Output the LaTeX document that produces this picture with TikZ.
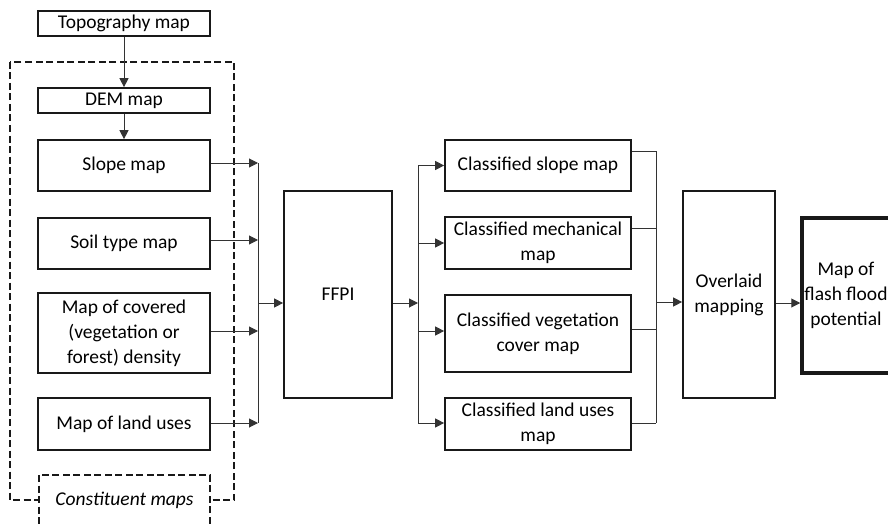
\documentclass[tikz,border=0pt]{standalone}
\usepackage{fontspec}
\setmainfont{Carlito}
\usetikzlibrary{arrows.meta,calc}
\begin{document}
\begin{tikzpicture}[x=1pt,y=-1pt,
  box/.style={draw=black!90,line width=1.7pt,rectangle,inner sep=0pt,align=center,font=\fontsize{19.5}{25}\selectfont},
  conn/.style={line width=1pt,draw=black!80},
  arr/.style={conn,-{Triangle[length=9pt,width=9pt]}},
  dashbox/.style={draw=black!90,line width=1.3pt,dash pattern=on 7pt off 3.5pt},
]
\useasboundingbox (0,0) rectangle (888,524);
\clip (0,0) rectangle (888,524);
% constituent group
\draw[dashbox] (10,62) rectangle (234,500);
\draw[dashbox,fill=white] (39,475) rectangle (210,545);
\node[font=\fontsize{19.5}{25}\selectfont\itshape] (constit) at (124.5,500) {Constituent maps};
% left boxes
\node[box,minimum width=172pt,minimum height=25pt] (topo) at (124,23.5) {Topography map};
\node[box,minimum width=172pt,minimum height=25pt] (dem) at (124,100.5) {DEM map};
\node[box,minimum width=172pt,minimum height=51pt] (slope) at (124,165.5) {Slope map};
\node[box,minimum width=172pt,minimum height=51pt] (soil) at (124,243.5) {Soil type map};
\node[box,minimum width=172pt,minimum height=80pt] (cover) at (124,333) {Map of covered\\(vegetation or\\forest) density};
\node[box,minimum width=172pt,minimum height=52pt] (land) at (124,424) {Map of land uses};
% FFPI
\node[box,minimum width=108pt,minimum height=207pt] (ffpi) at (338,294.5) {FFPI};
% classified boxes
\node[box,minimum width=186pt,minimum height=51pt] (cslope) at (538,165.5) {Classified slope map};
\node[box,minimum width=186pt,minimum height=52pt] (cmech) at (538,243) {Classified mechanical\\map};
\node[box,minimum width=186pt,minimum height=77pt] (cveg) at (538,333.5) {Classified vegetation\\cover map};
\node[box,minimum width=186pt,minimum height=52pt] (cland) at (538,424) {Classified land uses\\map};
% overlay and result
\node[box,minimum width=92pt,minimum height=207pt] (over) at (729,294.5) {Overlaid\\mapping};
\node[box,line width=3.5pt,minimum width=88pt,minimum height=155pt] (flash) at (846,295.5) {Map of\\flash flood\\potential};
% bus coordinates
\coordinate (busL) at (258,0);
\coordinate (busM) at (418,0);
\coordinate (busR) at (656,0);
% vertical arrows
\draw[arr] (topo) -- (dem);
\draw[arr] (dem) -- (slope);
% left inputs to bus
\draw[arr] ($(slope.east)+(0,-2.5)$) -- ($(slope.east -| busL)+(0,-2.5)$);
\draw[arr] ($(soil.east)+(0,-3.5)$) -- ($(soil.east -| busL)+(0,-3.5)$);
\draw[arr] ($(cover.east)+(0,-2)$) -- ($(cover.east -| busL)+(0,-2)$);
\draw[arr] ($(land.east)+(0,-1)$) -- ($(land.east -| busL)+(0,-1)$);
\draw[conn] ($(slope.east -| busL)+(0,-2.5)$) -- ($(land.east -| busL)+(0,-1)$);
\draw[arr] ($(ffpi.west -| busL)+(0,8.5)$) -- ($(ffpi.west)+(0,8.5)$);
% FFPI to classified
\draw[arr] ($(ffpi.east)+(0,8.5)$) -- ($(ffpi.east -| busM)+(0,8.5)$);
\draw[conn] (cslope.west -| busM) -- (cland.west -| busM);
\draw[arr] (cslope.west -| busM) -- (cslope.west);
\draw[arr] (cmech.west -| busM) -- (cmech.west);
\draw[arr] ($(cveg.west -| busM)+(0,-2.5)$) -- ($(cveg.west)+(0,-2.5)$);
\draw[arr] ($(cland.west -| busM)+(0,-1)$) -- ($(cland.west)+(0,-1)$);
% classified to overlay
\draw[conn] ($(cslope.east)+(0,-14.5)$) -- ($(cslope.east -| busR)+(0,-14.5)$);
\draw[conn] ($(cmech.east)+(0,-15)$) -- ($(cmech.east -| busR)+(0,-15)$);
\draw[conn] ($(cveg.east)+(0,-4.5)$) -- ($(cveg.east -| busR)+(0,-4.5)$);
\draw[conn] ($(cland.east)+(0,-1)$) -- ($(cland.east -| busR)+(0,-1)$);
\draw[conn] ($(cslope.east -| busR)+(0,-14.5)$) -- ($(cland.east -| busR)+(0,-1)$);
\draw[arr] ($(over.west -| busR)+(0,7.5)$) -- ($(over.west)+(0,7.5)$);
\draw[arr] ($(over.east)+(0,8.5)$) -- ($(flash.west)+(0,7.5)$);
\end{tikzpicture}
\end{document}
